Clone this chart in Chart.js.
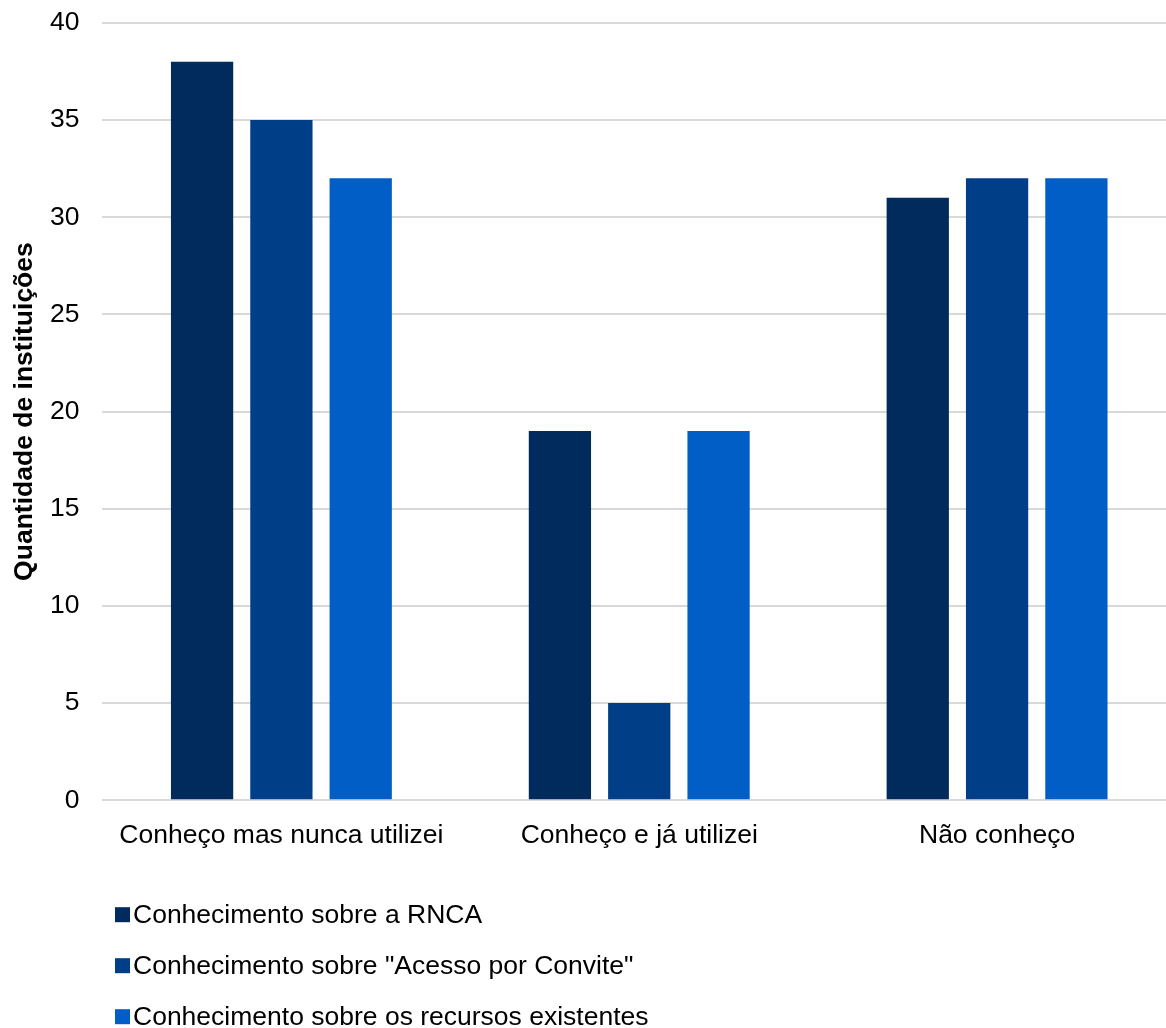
<!DOCTYPE html>
<html>
<head>
<meta charset="utf-8">
<script src="https://cdn.jsdelivr.net/npm/chart.js@4/dist/chart.umd.min.js"></script>
<style>
  html, body { margin: 0; padding: 0; background: #fff; overflow: hidden; }
  #wrap { width: 1176px; height: 1041px; margin-top: -16px; }
</style>
</head>
<body>
<div id="wrap"><canvas id="chart"></canvas></div>
<script>
const categories = ['Conheço mas nunca utilizei', 'Conheço e já utilizei', 'Não conheço'];
const seriesNames = [
  'Conhecimento sobre a RNCA',
  'Conhecimento sobre "Acesso por Convite"',
  'Conhecimento sobre os recursos existentes'
];
const rnca = [38, 19, 31];
const acessoConvite = [35, 5, 32];
const recursos = [32, 19, 32];
const colors = ['#002B5C', '#003F87', '#005EC6'];
const yTitle = 'Quantidade de instituições';

const fontFamily = '"Liberation Sans", Arial, sans-serif';

// legenda vertical e título do eixo desenhados à mão
const extras = {
  id: 'extras',
  afterDraw(chart) {
    const ctx = chart.ctx;
    const area = chart.chartArea;
    ctx.save();
    ctx.font = '26.5px ' + fontFamily;
    ctx.textBaseline = 'middle';
    chart.data.datasets.forEach((ds, i) => {
      const y = area.bottom + 114 + i * 51;
      ctx.fillStyle = ds.backgroundColor;
      ctx.fillRect(115, y - 7, 15, 15);
      ctx.fillStyle = '#000';
      ctx.fillText(ds.label, 133, y + 1);
    });
    ctx.restore();

    ctx.save();
    ctx.translate(25, (area.top + area.bottom) / 2);
    ctx.rotate(-Math.PI / 2);
    ctx.font = 'bold 26.5px ' + fontFamily;
    ctx.fillStyle = '#000';
    ctx.textAlign = 'center';
    ctx.textBaseline = 'middle';
    ctx.fillText(yTitle, 0, 0);
    ctx.restore();
  }
};

const ctx = document.getElementById('chart').getContext('2d');
new Chart(ctx, {
  type: 'bar',
  data: {
    labels: categories,
    datasets: [
      { label: seriesNames[0], data: rnca, backgroundColor: colors[0] },
      { label: seriesNames[1], data: acessoConvite, backgroundColor: colors[1] },
      { label: seriesNames[2], data: recursos, backgroundColor: colors[2] }
    ]
  },
  options: {
    responsive: true,
    maintainAspectRatio: false,
    animation: false,
    datasets: {
      bar: { barPercentage: 0.785, categoryPercentage: 0.665 }
    },
    layout: { padding: { top: 0, left: 27, right: 0, bottom: 161 } },
    plugins: {
      legend: { display: false },
      tooltip: { enabled: false }
    },
    scales: {
      x: {
        grid: { display: false },
        border: { display: false },
        ticks: {
          color: '#000',
          font: { family: fontFamily, size: 26.5 },
          padding: 12,
          maxRotation: 0
        }
      },
      y: {
        min: 0,
        max: 40,
        ticks: {
          stepSize: 5,
          color: '#000',
          padding: 23,
          font: { family: fontFamily, size: 26.5 }
        },
        grid: { color: '#D9D9D9', lineWidth: 2, drawTicks: false },
        border: { display: false }
      }
    }
  },
  plugins: [extras]
});
</script>
</body>
</html>
